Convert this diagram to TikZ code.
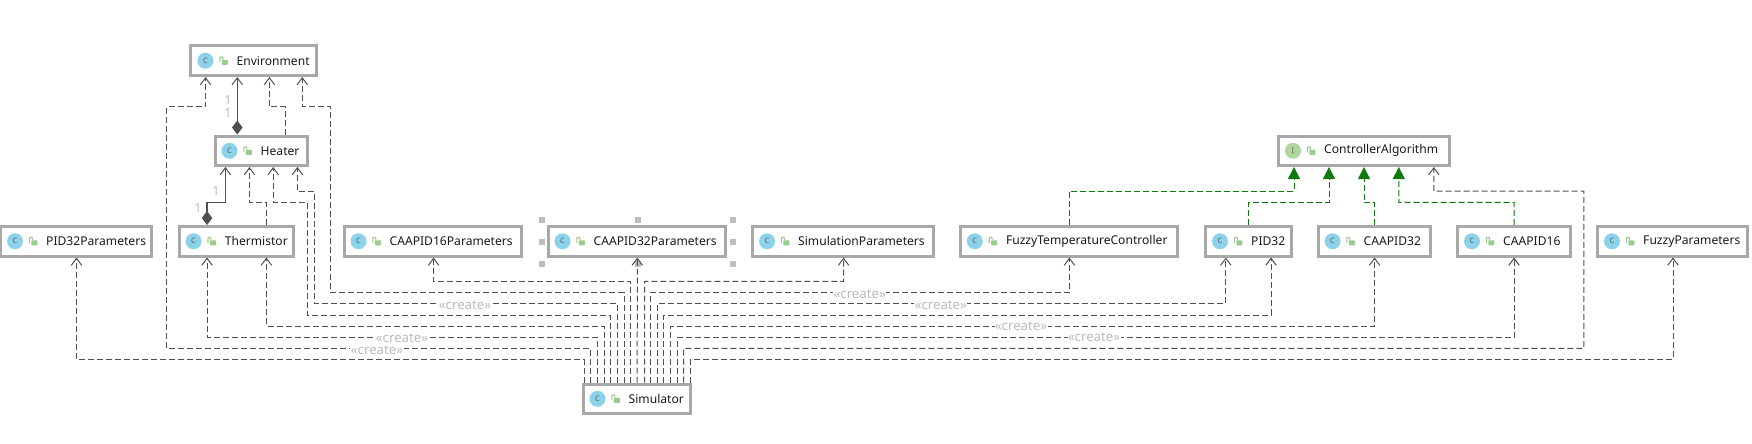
\documentclass[tikz,border=0pt]{standalone}
\usepackage{fontspec}
\setmainfont{Noto Sans}
\usetikzlibrary{arrows.meta}
\definecolor{boxc}{HTML}{A8A8A8}
\definecolor{depc}{HTML}{505050}
\definecolor{lblc}{HTML}{BBBBBB}
\definecolor{cblue}{HTML}{8CD2EA}
\definecolor{igreen}{HTML}{AFD6A0}
\definecolor{lockc}{HTML}{9CCB8E}
\definecolor{greenc}{HTML}{0E7A0E}
\definecolor{handlec}{HTML}{BDBDBD}
\tikzset{
  cbox/.style={draw=boxc,line width=3pt,fill=white,minimum height=29.5pt,inner sep=0pt},
  cname/.style={anchor=west,inner sep=0pt,font=\fontsize{12.1}{14}\selectfont,text=black!90},
  cicon/.style={circle,minimum size=16pt,inner sep=0pt,font=\fontsize{7.5}{8}\selectfont\bfseries,text=black!65},
  dep/.style={draw=depc,line width=1pt,dash pattern=on 6pt off 3pt,-{Straight Barb[length=7pt,width=10.5pt,line width=1pt]}},
  real/.style={draw=greenc,line width=1pt,dash pattern=on 6pt off 3pt,-{Triangle[length=12pt,width=12pt,fill=greenc]}},
  comp/.style={draw=depc,line width=1.3pt,{Diamond[length=14pt,width=10.5pt,fill=depc]}-{Straight Barb[length=7pt,width=10.5pt,line width=1pt]}},
  mult/.style={text=lblc,inner sep=0pt,font=\fontsize{12.5}{14}\selectfont},
  create/.style={text=lblc,fill=white,inner sep=0.5pt,font=\fontsize{13.2}{14}\selectfont},
  handle/.style={fill=handlec,draw=none,minimum size=6pt,inner sep=0pt}
}
% name, left, right, top, letter, icon colour, label
\newcommand{\umlbox}[7]{%
  \node[cbox,minimum width=\dimexpr #3pt-#2pt-3pt\relax] (#1) at ({(#2+#3)/2},{#4+16.25}) {};
  \node[cicon,fill=#6] (#1-i) at ([xshift=16pt]#1.west) {#5};
  \begin{scope}[shift={([xshift=34pt]#1.west)}]
    \draw[lockc,line width=1.1pt] (-3.6,1.5) -- (-3.6,-2.6) -- (-3.2,-3.6) -- (-1.6,-3.9) -- (-0.7,-3.2) -- (-0.7,-1);
    \fill[lockc,rounded corners=0.6pt] (-1.6,-0.9) rectangle (4.4,4);
  \end{scope}
  \node[cname] (#1-t) at ([xshift=47pt]#1.west) {#7};
}
\begin{document}
\begin{tikzpicture}[x=1pt,y=-1pt]
\useasboundingbox (0,0) rectangle (1752,444);
\fill[white] (0,0) rectangle (1752,444);

% selection handles
\foreach \hx/\hy in {542/220,542/241.7,542/264,637.7/220,637.7/264,733/220,733/241.7,733/264}
  \node[handle] at (\hx,\hy) {};

\umlbox{env}{189.4}{317.6}{44.5}{C}{cblue}{Environment}
\umlbox{heater}{213.5}{308.5}{134.5}{C}{cblue}{Heater}
\umlbox{pidp}{-1}{153}{225}{C}{cblue}{PID32Parameters}
\umlbox{therm}{177.6}{295.4}{225}{C}{cblue}{Thermistor}
\umlbox{caasp}{342.5}{523}{225}{C}{cblue}{CAAPID16Parameters}
\umlbox{caatp}{546.5}{727.2}{225}{C}{cblue}{CAAPID32Parameters}
\umlbox{simp}{751}{935.4}{225}{C}{cblue}{SimulationParameters}
\umlbox{ftc}{958.8}{1179}{225}{C}{cblue}{FuzzyTemperatureController}
\umlbox{pid}{1204}{1293}{225}{C}{cblue}{PID32}
\umlbox{caat}{1316.5}{1431.5}{225}{C}{cblue}{CAAPID32}
\umlbox{caas}{1456}{1571.5}{225}{C}{cblue}{CAAPID16}
\umlbox{fuzzyp}{1596}{1749}{225}{C}{cblue}{FuzzyParameters}
\umlbox{ctrl}{1277}{1450.8}{134.5}{I}{igreen}{ControllerAlgorithm}
\umlbox{sim}{581.5}{692.3}{382.5}{C}{cblue}{Simulator}

% Simulator dependencies, left side
\draw[dep] ([xshift=-52.9pt]sim.north) |- (76.5,359.3) -- ([xshift=0.5pt]pidp.south);
\draw[dep] ([xshift=-46.4pt]sim.north) |- (166.5,348.3) |- (205.5,106.7) -- ([xshift=-48pt]env.south);
\draw[dep] ([xshift=-39.5pt]sim.north) |- (207,337.3) -- ([xshift=-29.5pt]therm.south);
\draw[dep] ([xshift=-32.6pt]sim.north) |- (266.4,326.3) -- ([xshift=29.9pt]therm.south);
\draw[dep] ([xshift=-26.5pt]sim.north) |- (307.3,315.3) |- (273.2,202.3) -- ([xshift=12.2pt]heater.south);
\draw[dep] ([xshift=-19.2pt]sim.north) |- (314.6,303.3) |- (297.4,191.7) -- ([xshift=36.4pt]heater.south);
\draw[dep] ([xshift=-12.7pt]sim.north) |- (330.3,292.3) |- (302.3,106.7) -- ([xshift=48.8pt]env.south);
\draw[dep] ([xshift=-6.2pt]sim.north) |- (433.6,281.3) -- ([xshift=0.85pt]caasp.south);
\draw[dep] ([xshift=0.3pt]sim.north) -- ([xshift=0.45pt]caatp.south);
% right side
\draw[dep] ([xshift=7.6pt]sim.north) |- (843.6,281.3) -- ([xshift=0.4pt]simp.south);
\draw[dep] ([xshift=13.3pt]sim.north) |- (1069.4,292.3) -- ([xshift=0.5pt]ftc.south);
\draw[dep] ([xshift=20.2pt]sim.north) |- (1225.8,303.3) -- ([xshift=-22.7pt]pid.south);
\draw[dep] ([xshift=26.3pt]sim.north) |- (1271,315.3) -- ([xshift=22.5pt]pid.south);
\draw[dep] ([xshift=33.2pt]sim.north) |- (1374.6,326.3) -- ([xshift=0.6pt]caat.south);
\draw[dep] ([xshift=40.1pt]sim.north) |- (1514,337.3) -- ([xshift=0.25pt]caas.south);
\draw[dep] ([xshift=46.6pt]sim.north) |- (1583.8,348.3) |- (1433.8,191) -- ([xshift=69.9pt]ctrl.south);
\draw[dep] ([xshift=53.5pt]sim.north) |- (1673,359.3) -- ([xshift=0.5pt]fuzzyp.south);

% class to class
\draw[dep] ([xshift=24.5pt]heater.north) |- (269.4,106.7) -- ([xshift=15.9pt]env.south);
\draw[comp] ([xshift=-23.7pt]heater.north) -- ([xshift=-16.2pt]env.south);
\draw[dep] ([xshift=29.9pt]therm.north) |- (249.5,202.3) -- ([xshift=-11.5pt]heater.south);
\draw[comp] ([xshift=-29.5pt]therm.north) |- (225.4,202.3) -- ([xshift=-35.6pt]heater.south);

% realizations
\draw[real] ([xshift=0.5pt]ftc.north) |- (1294,191) -- ([xshift=-69.9pt]ctrl.south);
\draw[real] ([xshift=0.3pt]pid.north) |- (1329,202.3) -- ([xshift=-34.9pt]ctrl.south);
\draw[real] ([xshift=0.6pt]caat.north) |- (1364,202.3) -- ([xshift=0.1pt]ctrl.south);
\draw[real] ([xshift=0.25pt]caas.north) |- (1398.8,202.3) -- ([xshift=34.9pt]ctrl.south);

% labels
\node[mult] (m1) at (228,100) {1};
\node[mult] (m2) at (228,113) {1};
\node[mult] (m3) at (216,191) {1};
\node[mult] (m4) at (198,208) {1};
\node[create] (c1) at (465,305) {«create»};
\node[create] (c2) at (402,338) {«create»};
\node[create] (c3) at (377,350) {«create»};
\node[create] (c4) at (859.7,294.3) {«create»};
\node[create] (c5) at (940.8,305) {«create»};
\node[create] (c6) at (1021,326.7) {«create»};
\node[create] (c7) at (1094,337.7) {«create»};
\end{tikzpicture}
\end{document}
